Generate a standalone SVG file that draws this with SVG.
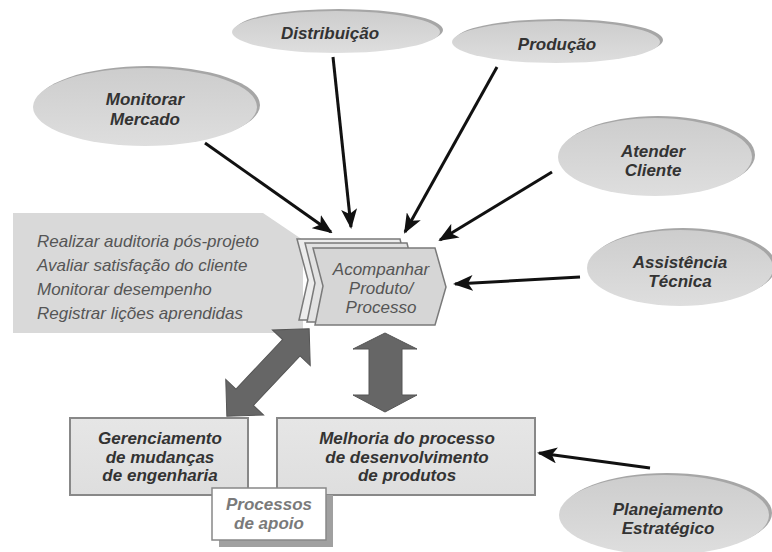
<svg xmlns="http://www.w3.org/2000/svg" width="772" height="552" viewBox="0 0 772 552">
  <defs>
    <linearGradient id="ovalFill" x1="0" y1="0" x2="0" y2="1">
      <stop offset="0" stop-color="#cdcdcd"/>
      <stop offset="1" stop-color="#dedede"/>
    </linearGradient>
    <linearGradient id="boxFill" x1="0" y1="0" x2="0" y2="1">
      <stop offset="0" stop-color="#e6e6e6"/>
      <stop offset="1" stop-color="#dedede"/>
    </linearGradient>
    <marker id="head" viewBox="0 0 20 16" refX="18" refY="8" markerWidth="20" markerHeight="16" markerUnits="userSpaceOnUse" orient="auto">
      <path d="M0,0 L20,8 L0,16 L5,8 Z" fill="#111"/>
    </marker>
    <style>
      .shadow { fill: #a6a6a6; }
      .oval { fill: url(#ovalFill); }
      .lbl { font-family: "Liberation Sans", Arial, sans-serif; font-size: 17px; font-weight: bold; font-style: italic; fill: #333; text-anchor: middle; }
      .note { font-family: "Liberation Sans", Arial, sans-serif; font-size: 17px; font-style: italic; fill: #555; }
      .step { font-family: "Liberation Sans", Arial, sans-serif; font-size: 17px; font-style: italic; fill: #555; text-anchor: middle; }
      .box { fill: url(#boxFill); stroke: #888; stroke-width: 2; }
      .flow { stroke: #111; stroke-width: 3; fill: none; marker-end: url(#head); }
      .big { fill: #666; stroke: #555; stroke-width: 1; }
      .chev { stroke: #7a7a7a; stroke-width: 1.5; }
    </style>
  </defs>

  <!-- activity list panel -->
  <g id="activities">
    <polygon points="13,213 263,213 303,240 303,333 13,333" fill="#d9d9d9"/>
    <text class="note" x="37" y="247">Realizar auditoria pós-projeto</text>
    <text class="note" x="37" y="271">Avaliar satisfação do cliente</text>
    <text class="note" x="37" y="295">Monitorar desempenho</text>
    <text class="note" x="37" y="319">Registrar lições aprendidas</text>
  </g>

  <!-- central stacked chevron -->
  <g id="acompanhar">
    <polygon class="chev" fill="#ececec" points="297,239 400,239 410,280 400,320 299,320 308,280"/>
    <polygon class="chev" fill="#e2e2e2" points="305,243 407,243 417,284 407,322 307,322 315,283"/>
    <polygon class="chev" fill="#d6d6d6" points="313,248 435,248 446,287 435,325 315,325 323,286"/>
    <text class="step" x="381" y="275">Acompanhar</text>
    <text class="step" x="381" y="294">Produto/</text>
    <text class="step" x="381" y="313">Processo</text>
  </g>

  <!-- source ovals -->
  <g id="monitorar">
    <ellipse class="shadow" cx="148" cy="105" rx="112" ry="39"/>
    <ellipse class="oval" cx="145" cy="107" rx="112" ry="39"/>
    <text class="lbl" x="145" y="105">Monitorar</text>
    <text class="lbl" x="145" y="125">Mercado</text>
  </g>
  <g id="distribuicao">
    <ellipse class="shadow" cx="339" cy="30" rx="104" ry="21"/>
    <ellipse class="oval" cx="336" cy="32" rx="104" ry="21"/>
    <text class="lbl" x="330" y="39">Distribuição</text>
  </g>
  <g id="producao">
    <ellipse class="shadow" cx="559" cy="40" rx="104" ry="21"/>
    <ellipse class="oval" cx="556" cy="42" rx="104" ry="21"/>
    <text class="lbl" x="557" y="50">Produção</text>
  </g>
  <g id="atender">
    <ellipse class="shadow" cx="658" cy="155" rx="97" ry="39"/>
    <ellipse class="oval" cx="655" cy="157" rx="97" ry="39"/>
    <text class="lbl" x="653" y="157">Atender</text>
    <text class="lbl" x="653" y="176">Cliente</text>
  </g>
  <g id="assistencia">
    <ellipse class="shadow" cx="683" cy="266" rx="93" ry="38"/>
    <ellipse class="oval" cx="680" cy="268" rx="93" ry="38"/>
    <text class="lbl" x="680" y="268">Assistência</text>
    <text class="lbl" x="680" y="287">Técnica</text>
  </g>
  <g id="planejamento">
    <ellipse class="shadow" cx="667" cy="513" rx="105" ry="40"/>
    <ellipse class="oval" cx="664" cy="515" rx="105" ry="40"/>
    <text class="lbl" x="668" y="515">Planejamento</text>
    <text class="lbl" x="668" y="534">Estratégico</text>
  </g>

  <!-- improvement boxes -->
  <g id="gerenciamento">
    <rect class="box" x="70" y="418" width="178" height="77"/>
    <text class="lbl" x="160" y="444">Gerenciamento</text>
    <text class="lbl" x="160" y="463">de mudanças</text>
    <text class="lbl" x="160" y="481">de engenharia</text>
  </g>
  <g id="melhoria">
    <rect class="box" x="277" y="418" width="258" height="77"/>
    <text class="lbl" x="407" y="444">Melhoria do processo</text>
    <text class="lbl" x="407" y="463">de desenvolvimento</text>
    <text class="lbl" x="407" y="481">de produtos</text>
  </g>
  <g id="apoio">
    <rect x="219" y="495" width="114" height="52" fill="#a0a0a0"/>
    <rect x="212" y="488" width="114" height="52" fill="#fff" stroke="#888" stroke-width="1.5"/>
    <text class="lbl" x="269" y="510" style="fill:#7a7a7a">Processos</text>
    <text class="lbl" x="269" y="529" style="fill:#7a7a7a">de apoio</text>
  </g>

  <!-- connectors -->
  <g id="connectors">
    <line class="flow" x1="205" y1="143" x2="331" y2="232"/>
    <line class="flow" x1="333" y1="57" x2="351" y2="227"/>
    <line class="flow" x1="497" y1="67" x2="405" y2="232"/>
    <line class="flow" x1="552" y1="172" x2="440" y2="240"/>
    <line class="flow" x1="580" y1="277" x2="455" y2="284"/>
    <line class="flow" x1="650" y1="468" x2="539" y2="453"/>
    <!-- two-way block arrows -->
    <polygon class="big" transform="translate(268,372.5) rotate(-46.7)" points="60,0 34,-26 34,-12 -34,-12 -34,-26 -60,0 -34,26 -34,12 34,12 34,26"/>
    <polygon class="big" points="385,333 417,349 402,349 402,395 417,395 385,412 353,395 369,395 369,349 353,349"/>
  </g>
</svg>
